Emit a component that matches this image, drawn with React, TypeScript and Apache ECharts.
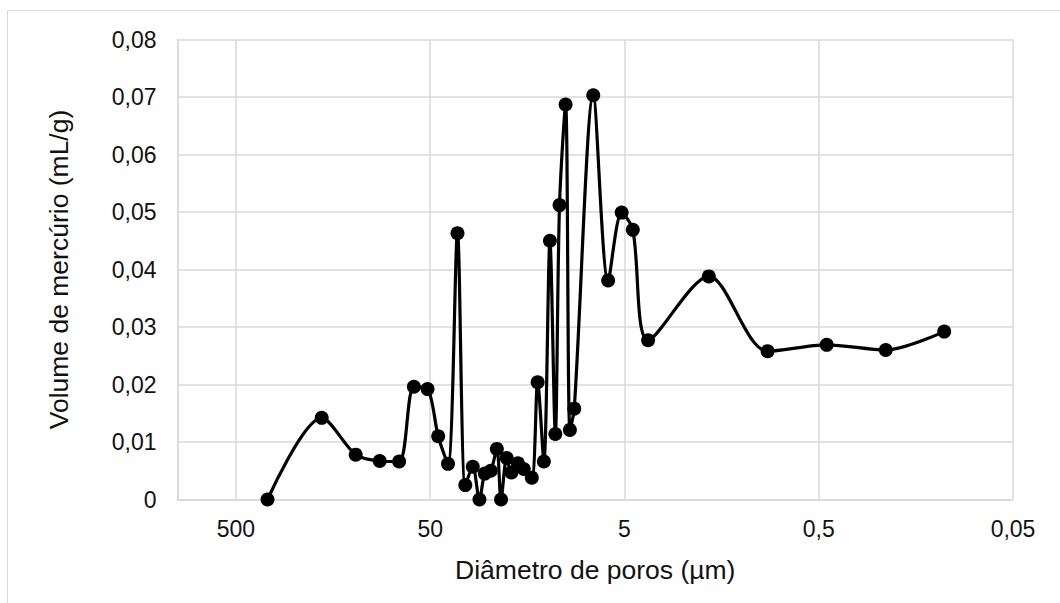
import React, { useEffect, useRef } from 'react';
import * as echarts from 'echarts';

// Pore diameter (µm) and mercury volume (mL/g)
const diameters = [344, 181, 121, 91, 72.3, 60.7, 51.6, 45.5, 40.5, 36.2, 33.0, 30.2, 27.9, 26.2, 24.4, 22.7, 21.6, 20.2, 19.1, 17.7, 16.5, 15.0, 14.0, 13.0, 12.1, 11.35, 10.8, 10.05, 9.55, 9.07, 7.24, 6.07, 5.17, 4.53, 3.78, 1.84, 0.917, 0.455, 0.226, 0.113];
const volumes = [0, 0.0142, 0.0078, 0.0067, 0.0066, 0.0196, 0.0192, 0.011, 0.0062, 0.0463, 0.0025, 0.0057, 0, 0.0045, 0.005, 0.0088, 0, 0.0072, 0.0047, 0.0063, 0.0053, 0.0038, 0.0204, 0.0066, 0.045, 0.0114, 0.0512, 0.0687, 0.0121, 0.0158, 0.0703, 0.0381, 0.0499, 0.0469, 0.0277, 0.0388, 0.0258, 0.0269, 0.026, 0.0292];

// Log axis: decades counted from the smallest tick (0,05 µm)
const xTickLabels = ['0,05', '0,5', '5', '50', '500'];
const X_BASE = 0.05;
const X_MAX = 1000;
const Y_MAX = 0.08;
const Y_STEP = 0.01;

const FONT = "'Liberation Sans', Arial, sans-serif";

export default function App() {
  const ref = useRef<HTMLDivElement>(null);

  useEffect(() => {
    if (!ref.current) return;
    const chart = echarts.init(ref.current, undefined, { renderer: 'svg' });
    const toDecade = (d: number) => Math.log10(d / X_BASE);
    const data = diameters.map((d, i) => [toDecade(d), volumes[i]]);

    chart.setOption({
      animation: false,
      backgroundColor: '#ffffff',
      graphic: [
        {
          type: 'rect',
          shape: { x: 7.5, y: 10.5, width: 1200, height: 800 },
          style: { fill: 'none', stroke: '#d9d9d9', lineWidth: 1 },
          silent: true,
          z: -10,
        },
      ],
      grid: { left: 177.5, right: 47, top: 39.5, bottom: 103.5, containLabel: false },
      xAxis: {
        type: 'value',
        inverse: true,
        min: 0,
        max: toDecade(X_MAX),
        interval: 1,
        name: 'Diâmetro de poros (µm)',
        nameLocation: 'middle',
        nameGap: 57,
        nameTextStyle: { fontFamily: FONT, fontSize: 26.5, color: '#111' },
        axisLine: { show: true, onZero: false, lineStyle: { color: '#d9d9d9', width: 1.5 } },
        axisTick: { show: false },
        axisLabel: {
          fontFamily: FONT,
          fontSize: 23,
          color: '#111',
          margin: 18,
          showMaxLabel: false,
          formatter: (v: number) => {
            const k = Math.round(v);
            if (Math.abs(v - k) > 1e-6 || k < 0 || k >= xTickLabels.length) return '';
            return xTickLabels[k];
          },
        },
        splitLine: { show: true, lineStyle: { color: '#d9d9d9', width: 1.5 } },
      },
      yAxis: {
        type: 'value',
        min: 0,
        max: Y_MAX,
        interval: Y_STEP,
        name: 'Volume de mercúrio (mL/g)',
        nameLocation: 'middle',
        nameGap: 105,
        nameRotate: 90,
        nameTextStyle: { fontFamily: FONT, fontSize: 26.5, color: '#111' },
        axisLine: { show: true, onZero: false, lineStyle: { color: '#d9d9d9', width: 1.5 } },
        axisTick: { show: false },
        axisLabel: {
          fontFamily: FONT,
          fontSize: 23,
          color: '#111',
          margin: 21,
          formatter: (v: number) => (v === 0 ? '0' : v.toFixed(2).replace('.', ',')),
        },
        splitLine: { show: true, lineStyle: { color: '#d9d9d9', width: 1.5 } },
      },
      series: [
        {
          type: 'line',
          data,
          smooth: 0.3,
          symbol: 'circle',
          symbolSize: 14,
          showAllSymbol: true,
          lineStyle: { color: '#000', width: 3.2 },
          itemStyle: { color: '#000' },
          z: 5,
        },
      ],
    });

    return () => chart.dispose();
  }, []);

  return (
    <div
      ref={ref}
      style={{ position: 'absolute', left: 0, top: 0, width: 1060, height: 603, background: '#fff' }}
    />
  );
}
